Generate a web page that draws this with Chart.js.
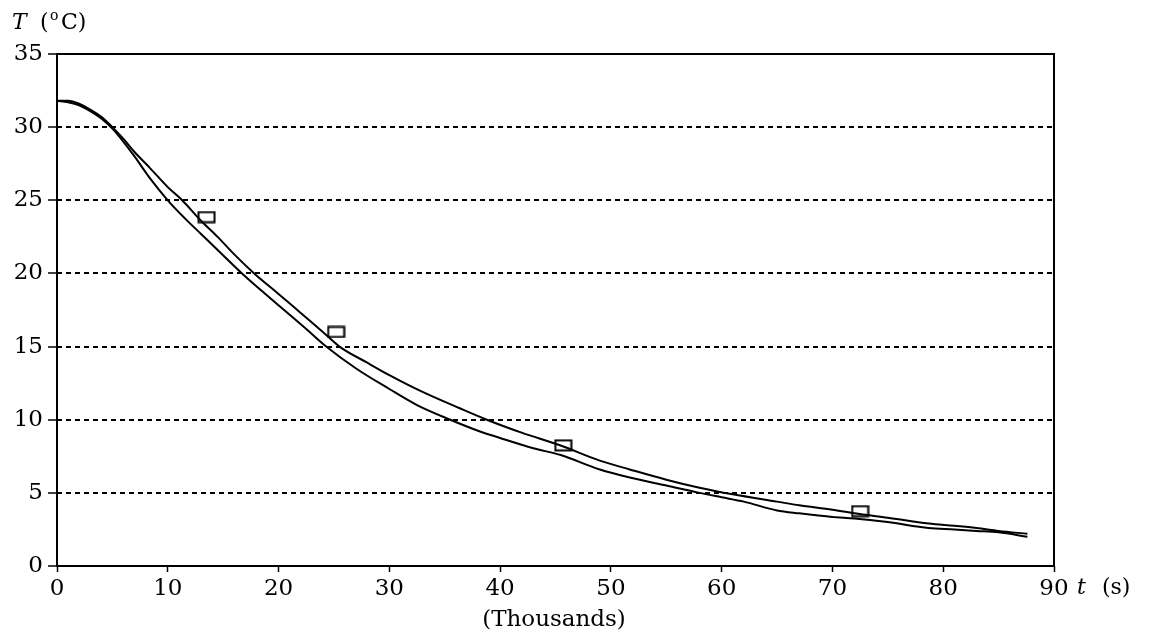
<!DOCTYPE html>
<html>
<head>
<meta charset="utf-8">
<script src="https://cdn.jsdelivr.net/npm/chart.js@4"></script>
<style>
  body { margin: 0; background: #fff; }
  #wrap { position: relative; width: 1163px; height: 634px; }
</style>
</head>
<body>
<div id="wrap"><canvas id="tempChart" width="1163" height="634"></canvas></div>
<script>
// time in thousands of seconds, temperature in degC
var tUpper = [0, 1, 2, 3, 4, 5, 6, 7, 8.4, 10, 11.3, 13, 14.5, 16, 17.8, 20, 22, 24, 25.5, 28, 30, 33, 36.3, 38.8, 42, 45.4, 49, 51.7, 55, 58, 61, 65, 67, 70, 72, 75, 78.7, 81, 83, 85, 87.6];
var TUpper = [31.8, 31.8, 31.6, 31.2, 30.7, 30.0, 29.2, 28.3, 27.2, 25.9, 25.0, 23.6, 22.5, 21.3, 20.0, 18.6, 17.3, 16.0, 15.0, 13.9, 13.05, 11.9, 10.8, 10.0, 9.1, 8.25, 7.2, 6.6, 5.9, 5.35, 4.9, 4.4, 4.15, 3.85, 3.6, 3.3, 2.9, 2.75, 2.6, 2.4, 2.2];

var tLower = [0, 1, 2, 3, 4, 5, 6, 7, 8.4, 10, 11.5, 13, 14.5, 16.7, 18.5, 20.5, 22.5, 24.3, 27, 30, 32.5, 35.5, 38, 40, 43, 45.4, 49, 51.7, 55, 58, 60, 62, 65, 67, 70, 72, 75, 78.7, 81, 83, 85, 87.6];
var TLower = [31.8, 31.7, 31.5, 31.1, 30.6, 29.9, 29.0, 28.0, 26.5, 25.0, 23.8, 22.7, 21.6, 20.0, 18.8, 17.5, 16.2, 15.0, 13.5, 12.1, 11.0, 10.0, 9.25, 8.75, 8.05, 7.6, 6.6, 6.05, 5.5, 5.0, 4.7, 4.4, 3.8, 3.6, 3.35, 3.25, 3.0, 2.6, 2.5, 2.4, 2.3, 2.0];

var tMeasured = [13.5, 25.2, 45.7, 72.5];
var TMeasured = [23.85, 16.0, 8.25, 3.75];

var xMin = 0, xMax = 90, xStep = 10;
var yMin = 0, yMax = 35, yStep = 5;

function toPoints(xs, ys) {
    var pts = [];
    for (var i = 0; i < xs.length; i++) {
        pts.push({x: xs[i], y: ys[i]});
    }
    return pts;
}

// open rectangle marker, wider than tall
var marker = document.createElement('canvas');
marker.width = 19;
marker.height = 13;
var mctx = marker.getContext('2d');
mctx.strokeStyle = '#000';
mctx.lineWidth = 2;
mctx.strokeRect(1.5, 1.5, 16, 10);

var serif = '"DejaVu Serif", "Liberation Serif", serif';

var frameAndLabels = {
    id: 'frameAndLabels',
    afterDraw: function (chart) {
        var ctx = chart.ctx;
        var a = chart.chartArea;
        ctx.save();
        ctx.strokeStyle = '#000';
        ctx.lineWidth = 2;
        ctx.strokeRect(a.left, a.top, a.right - a.left, a.bottom - a.top);

        ctx.fillStyle = '#000';
        ctx.textBaseline = 'alphabetic';
        ctx.textAlign = 'left';
        // y label: T (oC)
        ctx.font = 'italic 22px ' + serif;
        ctx.fillText('T', 12, 29);
        ctx.font = '22px ' + serif;
        ctx.fillText('(', 40, 29);
        ctx.font = '14px ' + serif;
        ctx.fillText('o', 50, 20);
        ctx.font = '22px ' + serif;
        ctx.fillText('C)', 61, 29);

        // x label: t (s)
        ctx.font = 'italic 22px ' + serif;
        ctx.fillText('t', 1077, 594);
        ctx.font = '22px ' + serif;
        ctx.fillText('(s)', 1102, 594);

        ctx.textAlign = 'center';
        ctx.font = '23px ' + serif;
        ctx.fillText('(Thousands)', 554, 626);
        ctx.restore();
    }
};

var ctx = document.getElementById('tempChart');
var chart = new Chart(ctx, {
    type: 'line',
    data: {
        datasets: [
            {
                label: 'upper',
                data: toPoints(tUpper, TUpper),
                borderColor: '#000',
                borderWidth: 2,
                pointRadius: 0,
                cubicInterpolationMode: 'monotone',
                fill: false
            },
            {
                label: 'lower',
                data: toPoints(tLower, TLower),
                borderColor: '#000',
                borderWidth: 2,
                pointRadius: 0,
                cubicInterpolationMode: 'monotone',
                fill: false
            },
            {
                label: 'measured',
                data: toPoints(tMeasured, TMeasured),
                showLine: false,
                pointStyle: marker,
                pointRadius: 8,
                borderColor: '#000',
                backgroundColor: '#000'
            }
        ]
    },
    options: {
        responsive: false,
        animation: false,
        devicePixelRatio: 1,
        layout: {
            padding: {left: 0, right: 109, top: 54, bottom: 0}
        },
        plugins: {
            legend: {display: false},
            tooltip: {enabled: false}
        },
        scales: {
            x: {
                type: 'linear',
                min: xMin,
                max: xMax,
                afterFit: function (scale) { scale.height = 68; },
                ticks: {
                    stepSize: xStep,
                    color: '#000',
                    padding: 3,
                    maxRotation: 0,
                    font: {family: serif, size: 23}
                },
                grid: {
                    drawOnChartArea: false,
                    drawTicks: true,
                    tickLength: 6,
                    tickColor: '#000',
                    tickWidth: 1.5
                },
                border: {display: false}
            },
            y: {
                min: yMin,
                max: yMax,
                afterFit: function (scale) { scale.width = 57; },
                ticks: {
                    stepSize: yStep,
                    color: '#000',
                    padding: 5,
                    font: {family: serif, size: 23}
                },
                grid: {
                    color: function (c) {
                        if (c.tick && (c.tick.value === yMin || c.tick.value === yMax)) {
                            return 'rgba(0,0,0,0)';
                        }
                        return '#000';
                    },
                    lineWidth: 2,
                    drawTicks: true,
                    tickLength: 9,
                    tickColor: '#000',
                    tickWidth: 1.5
                },
                border: {display: false, dash: [5, 4]}
            }
        }
    },
    plugins: [frameAndLabels]
});
</script>
</body>
</html>
